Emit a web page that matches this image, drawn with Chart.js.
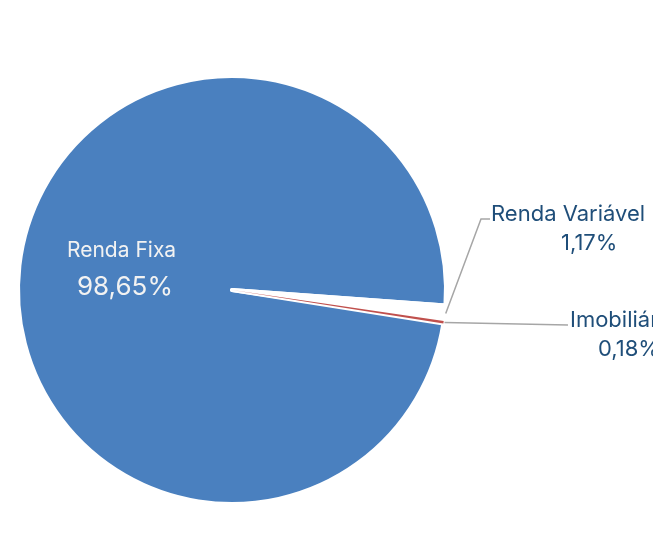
<!DOCTYPE html>
<html>
<head>
<meta charset="utf-8">
<script src="https://cdn.jsdelivr.net/npm/chart.js@4/dist/chart.umd.min.js"></script>
<style>
  html, body { margin: 0; padding: 0; background: #fff; }
  #wrap { width: 653px; height: 556px; }
</style>
</head>
<body>
<div id="wrap"><canvas id="chart" width="653" height="556"></canvas></div>
<script>
const categories = ['Renda Fixa', 'Renda Variável', 'Imobiliário'];
const shares = [98.65, 1.17, 0.18];
const shareLabels = ['98,65%', '1,17%', '0,18%'];
const sliceColors = ['#4A80BF', '#FFFFFF', '#C0504D'];

// where each label starts (left edge, middle), and the elbow/end of its leader line
const labelLayout = [
  { name: [67, 251], value: [77, 287], color: '#F2F2F2', nameSize: 21, valueSize: 26, line: null },
  { name: [491, 214], value: [561, 243], color: '#1F4E79', nameSize: 22, valueSize: 22, line: [[481, 219], [490, 219]] },
  { name: [570, 320], value: [598, 349], color: '#1F4E79', nameSize: 22, valueSize: 22, line: [[568, 325]] }
];

const pieLabels = {
  id: 'pieLabels',
  afterDraw(chart) {
    const ctx = chart.ctx;
    const meta = chart.getDatasetMeta(0);
    ctx.save();
    meta.data.forEach((arc, i) => {
      const lay = labelLayout[i];
      if (lay.line) {
        const p = arc.getProps(['x', 'y', 'startAngle', 'endAngle', 'outerRadius'], true);
        const mid = (p.startAngle + p.endAngle) / 2;
        const sx = p.x + Math.cos(mid) * (p.outerRadius + 1);
        const sy = p.y + Math.sin(mid) * (p.outerRadius + 1);
        ctx.beginPath();
        ctx.strokeStyle = '#A6A6A6';
        ctx.lineWidth = 1.5;
        ctx.moveTo(sx, sy);
        lay.line.forEach(pt => ctx.lineTo(pt[0], pt[1]));
        ctx.stroke();
      }
      ctx.fillStyle = lay.color;
      ctx.textAlign = 'left';
      ctx.textBaseline = 'middle';
      ctx.font = lay.nameSize + 'px Inter, "Noto Sans", sans-serif';
      ctx.fillText(categories[i], lay.name[0], lay.name[1]);
      ctx.font = lay.valueSize + 'px Inter, "Noto Sans", sans-serif';
      ctx.fillText(shareLabels[i], lay.value[0], lay.value[1]);
    });
    ctx.restore();
  }
};

new Chart(document.getElementById('chart'), {
  type: 'pie',
  data: {
    labels: categories,
    datasets: [{
      data: shares,
      backgroundColor: sliceColors,
      borderColor: '#FFFFFF',
      borderWidth: [4, 4, 0],
      borderJoinStyle: 'round'
    }]
  },
  options: {
    responsive: false,
    animation: false,
    rotation: 99,
    layout: { padding: { left: 16, right: 205, top: 74, bottom: 50 } },
    plugins: {
      legend: { display: false },
      tooltip: { enabled: false }
    }
  },
  plugins: [pieLabels]
});
</script>
</body>
</html>
